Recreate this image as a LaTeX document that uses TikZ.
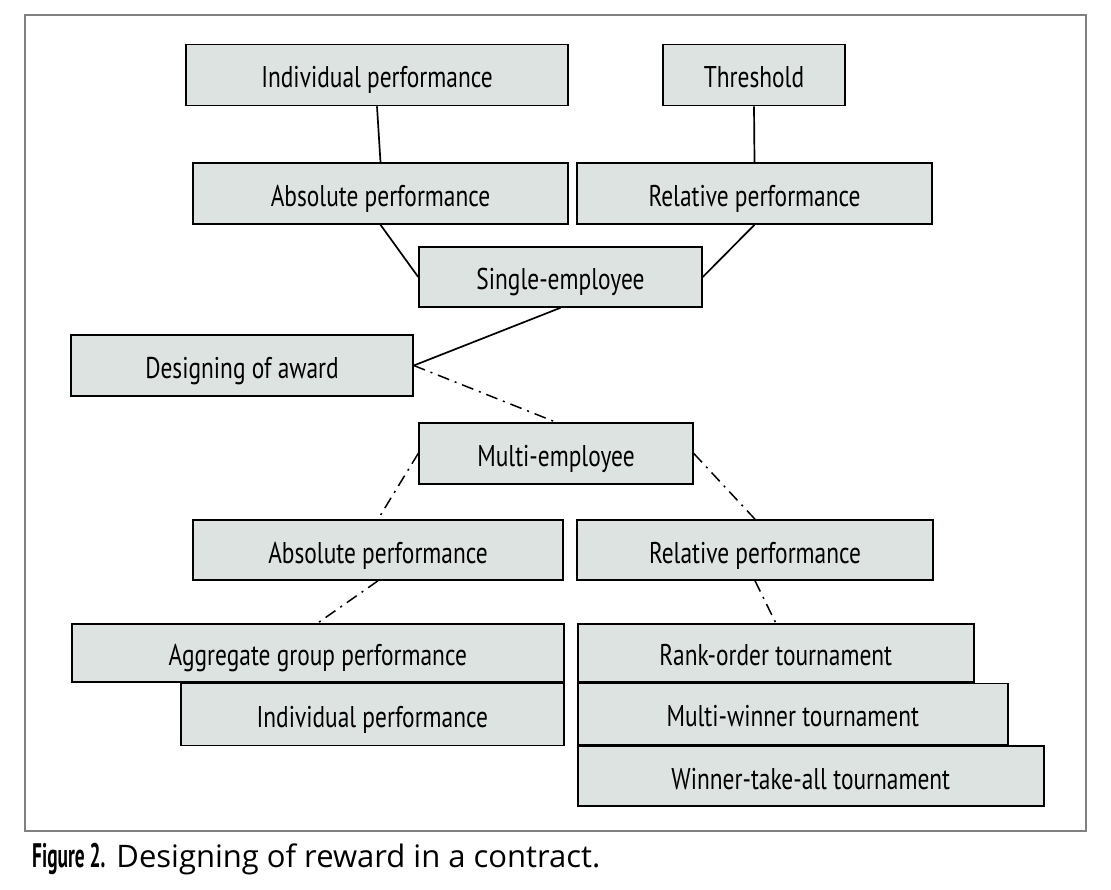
\documentclass[tikz,border=0pt]{standalone}
\usepackage{fontspec}
\setmainfont{PT Sans}
\newfontfamily\boxfont{PT Sans}[FakeStretch=0.78]
\newfontfamily\figfont{PT Sans}[FakeStretch=0.57]
\newfontfamily\capfont{Open Sans}
\usetikzlibrary{positioning}
\definecolor{boxfill}{HTML}{DCE3E0}
\definecolor{framegray}{HTML}{808080}

\begin{document}
\begin{tikzpicture}[x=1pt,y=-1pt,
    box/.style={draw, line width=1.6pt, fill=boxfill, inner sep=0pt,
                minimum height=61pt, text height=26pt, text depth=0pt,
                font=\boxfont\fontsize{30}{32}\selectfont},
    link/.style={line width=1.7pt},
    dashlink/.style={line width=1.5pt, dash pattern=on 12pt off 6pt on 2pt off 6pt}]
    \useasboundingbox (0,0) rectangle (1111,890);
    \draw[framegray, line width=1.5pt] (25,15) rectangle (1086,831);
    % single-employee branch
    \node[box, minimum width=382pt] (indtop) at (377,75) {Individual performance};
    \node[box, minimum width=182pt] (thresh) at (754,75) {Threshold};
    \node[box, minimum width=375pt] (absup) at (380.5,193.5) {Absolute performance};
    \node[box, minimum width=355pt] (relup) at (754.5,193.5) {Relative performance};
    \node[box, minimum width=283pt, minimum height=60pt] (single) at (560.5,277) {Single-employee};
    \node[box, minimum width=342pt] (design) at (242,365.5) {Designing of award};
    % multi-employee branch
    \node[box, minimum width=274pt] (multi) at (556,453.5) {Multi-employee};
    \node[box, minimum width=370pt, minimum height=60pt] (absdown) at (378,550) {Absolute performance};
    \node[box, minimum width=356pt, minimum height=60pt] (reldown) at (755,550) {Relative performance};
    \node[box, minimum width=492pt, minimum height=58pt, anchor=north west] (aggr) at (71,623) {Aggregate group performance};
    \node[box, minimum width=383pt, minimum height=62pt, anchor=north east] (indlow) at (aggr.south east) {Individual performance};
    \node[box, minimum width=396pt, minimum height=58pt, anchor=north west] (rank) at (577,623) {Rank-order tournament};
    \node[box, minimum width=430pt, anchor=north west] (multiwin) at (rank.south west) {Multi-winner tournament};
    \node[box, minimum width=466pt, minimum height=60pt, anchor=north west] (takeall) at (multiwin.south west) {Winner-take-all tournament};
    \draw[link] (indtop.south) edge (absup.north);
    \draw[link] (thresh.south) edge (relup.north);
    \draw[link] (absup.south) edge (single.west);
    \draw[link] (relup.south) edge (single.east);
    \draw[link] (single.south) edge (design.east);
    \draw[dashlink] (design.east) edge (multi.north);
    \draw[dashlink] (multi.west) edge (absdown.north);
    \draw[dashlink] (multi.east) edge (reldown.north);
    \draw[dashlink] (absdown.south) edge (aggr.north);
    \draw[dashlink] (reldown.south) edge (rank.north);
    \node[anchor=base west, inner sep=0pt, font=\fontsize{31}{33}\selectfont] (caption) at (32,867)
        {{\figfont\fontsize{34}{36}\selectfont\bfseries Figure 2.} \capfont Designing of reward in a contract.};
\end{tikzpicture}
\end{document}
